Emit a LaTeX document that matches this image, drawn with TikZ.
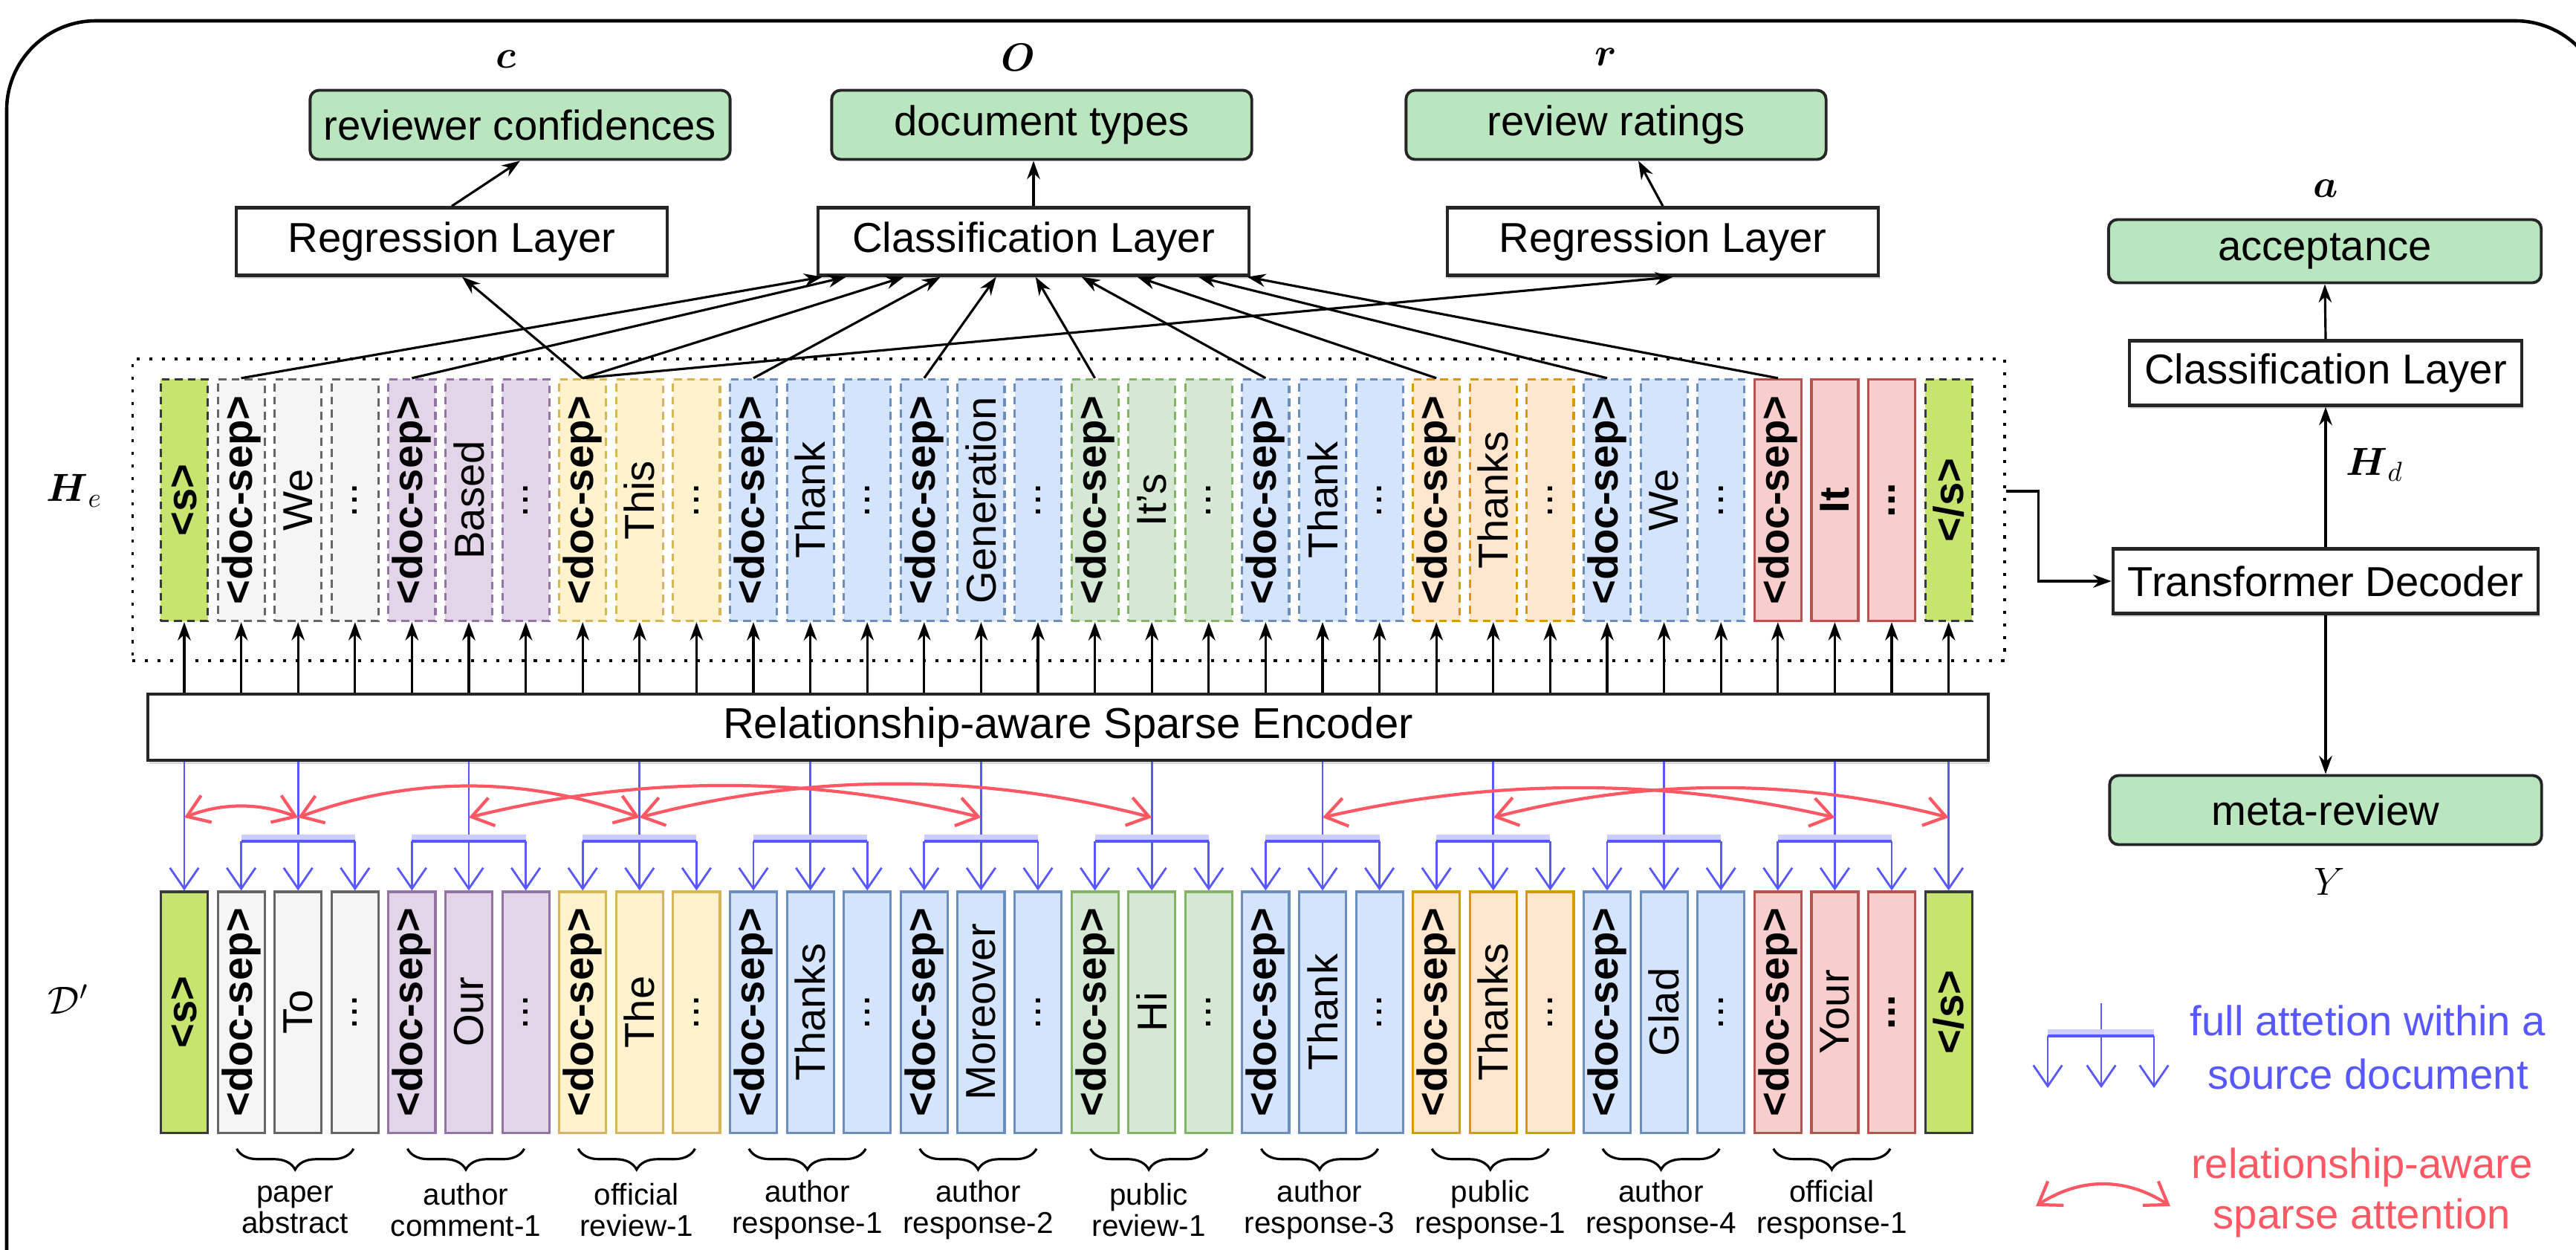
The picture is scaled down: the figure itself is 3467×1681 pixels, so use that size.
\RequirePackage{fix-cm}
\documentclass[tikz,border=0pt]{standalone}
\usepackage{amsmath}
\usepackage{fontspec}
\setmainfont{Liberation Sans}
\usetikzlibrary{arrows.meta,calc,decorations.pathreplacing,shadows}

% token colours (fill / line)
\definecolor{sgreen}{HTML}{C6E46E}
\definecolor{sline}{HTML}{36393D}
\definecolor{gfill}{HTML}{F5F5F5}
\definecolor{gline}{HTML}{666666}
\definecolor{pfill}{HTML}{E1D5E7}
\definecolor{pline}{HTML}{9673A6}
\definecolor{yfill}{HTML}{FFF2CC}
\definecolor{yline}{HTML}{D6B656}
\definecolor{bfill}{HTML}{D4E4FC}
\definecolor{bline}{HTML}{6C8EBF}
\definecolor{gnfill}{HTML}{D5E8D4}
\definecolor{gnline}{HTML}{82B366}
\definecolor{ofill}{HTML}{FFE6CC}
\definecolor{oline}{HTML}{D79B00}
\definecolor{rfill}{HTML}{F8CECC}
\definecolor{rline}{HTML}{B85450}
\definecolor{outgreen}{HTML}{BAE6BF}
\definecolor{attblue}{HTML}{5858FF}
\definecolor{attred}{HTML}{FF5865}

\newcommand{\bxfont}{\fontsize{16}{19}\selectfont}

\tikzset{
  lyrbox/.style={draw=black!85, line width=1.2pt, fill=white, minimum width=5.8cm,
    minimum height=0.91cm, inner sep=1pt, font=\bxfont,
    drop shadow={shadow xshift=0.4pt, shadow yshift=-1.3pt, opacity=0.3}},
  outbox/.style={draw=black!85, line width=1.1pt, fill=outgreen, rounded corners=0.12cm,
    minimum width=5.65cm, minimum height=0.93cm, inner sep=1pt, font=\bxfont},
  tok/.style={minimum width=0.63cm, inner sep=0pt, line width=0.9pt},
  htok/.style={tok, minimum height=3.25cm, dash pattern=on 3pt off 2pt},
  btok/.style={tok, minimum height=3.24cm},
  wordtxt/.style={rotate=90, inner sep=0pt, font=\bxfont},
  septxt/.style={rotate=90, inner sep=0pt, font=\bxfont\bfseries},
  stok/.style={fill=sgreen, draw=sline},
  c-gray/.style={fill=gfill, draw=gline},
  c-purple/.style={fill=pfill, draw=pline},
  c-yellow/.style={fill=yfill, draw=yline},
  c-blue/.style={fill=bfill, draw=bline},
  c-green/.style={fill=gnfill, draw=gnline},
  c-orange/.style={fill=ofill, draw=oline},
  c-red/.style={fill=rfill, draw=rline, solid},
  arr/.style={-{Stealth[length=7pt,width=5pt]}, line width=0.9pt},
  bluarr/.style={draw=attblue, line width=0.8pt, -{Straight Barb[length=8pt,width=11pt]}},
  blubar/.style={draw=attblue, line width=1.2pt,
    preaction={draw=attblue!30, line width=2.2pt, transform canvas={yshift=1.6pt}}},
  redarc/.style={draw=attred, line width=1.2pt,
    {Straight Barb[length=8pt,width=11pt]}-{Straight Barb[length=8pt,width=11pt]}},
  brc/.style={decorate, decoration={brace, mirror, amplitude=8pt}, line width=0.9pt},
  grplbl/.style={align=center, font=\fontsize{11.5}{12}\selectfont},
  hdr/.style={font=\fontsize{15}{18}\selectfont}
}

\begin{document}
\begin{tikzpicture}[x=0.01cm, y=-0.01cm]

% y runs downward here
\useasboundingbox (0,0) rectangle (3467,1681);

% Outer frame
\draw[line width=1.3pt, rounded corners=1.2cm] (9,28) rectangle (3505,1800);

% Encoder
\node[lyrbox, minimum width=24.75cm, minimum height=0.89cm, font=\fontsize{16.5}{20}\selectfont]
  (enc) at (1437.5,978.5) {Relationship-aware Sparse Encoder};

% Frame round H_e
\node[draw, line width=1pt, dash pattern=on 1.2pt off 3.6pt, minimum width=25.18cm,
  minimum height=4.06cm] (he) at (1438,686) {};

% Start and end tokens
\node[htok, stok] (h1) at (248,673) {};
\node[htok, stok] (h32) at (2622.6,673) {};
\node[btok, stok] (b1) at (248,1362) {};
\node[btok, stok] (b32) at (2622.6,1362) {};
\node[septxt] (th1) at (h1) {<s>};
\node[septxt] (th32) at (h32) {</s>};
\node[septxt] (tb1) at (b1) {<s>};
\node[septxt] (tb32) at (b32) {</s>};
\foreach \j in {1,32} {
  \draw[arr] (h\j.south |- enc.north) -- (h\j.south);
  \draw[bluarr] (b\j.north |- enc.south) -- (b\j.north);
}

% Source documents, three tokens each
\foreach \k/\cl/\tw/\bw/\la/\lb in {
  0/gray/We/To/paper/abstract,
  1/purple/Based/Our/author/comment-1,
  2/yellow/This/The/official/review-1,
  3/blue/Thank/Thanks/author/response-1,
  4/blue/Generation/Moreover/author/response-2,
  5/green/It's/Hi/public/review-1,
  6/blue/Thank/Thank/author/response-3,
  7/orange/Thanks/Thanks/public/response-1,
  8/blue/We/Glad/author/response-4,
  9/red/It/Your/official/response-1} {
  \pgfmathtruncatemacro{\ia}{2+3*\k}
  \pgfmathtruncatemacro{\ib}{3+3*\k}
  \pgfmathtruncatemacro{\ic}{4+3*\k}
  \foreach \j in {\ia,\ib,\ic} {
    \pgfmathsetmacro{\cx}{248+(\j-1)*76.6}
    \node[htok, c-\cl] (h\j) at (\cx,673) {};
    \node[btok, c-\cl] (b\j) at (\cx,1362) {};
    \draw[arr] (h\j.south |- enc.north) -- (h\j.south);
  }
  % token texts
  \node[septxt] (th\ia) at (h\ia) {<doc-sep>};
  \node[wordtxt] (th\ib) at (h\ib) {\ifnum\k=9\bfseries\fi\tw};
  \node[wordtxt] (th\ic) at (h\ic) {\ifnum\k=9\bfseries\fi...};
  \node[septxt] (tb\ia) at (b\ia) {<doc-sep>};
  \node[wordtxt] (tb\ib) at (b\ib) {\bw};
  \node[wordtxt] (tb\ic) at (b\ic) {\ifnum\k=9\bfseries\fi...};
  % full attention inside the document
  \draw[bluarr] (b\ib.north |- enc.south) -- (b\ib.north);
  \draw[blubar] (b\ia.north |- 0,1132) -- (b\ic.north |- 0,1132);
  \draw[bluarr] (b\ia.north |- 0,1132) -- (b\ia.north);
  \draw[bluarr] (b\ic.north |- 0,1132) -- (b\ic.north);
  % brace and name
  \draw[brc] ($(b\ia.south)+(-6,20)$) -- ($(b\ic.south)+(-2,20)$);
  \node[grplbl] (lbl\k) at ($(b\ib.south)+(-4,102)$) {\la\\\lb};
}

% Relationship-aware sparse attention
\foreach \i in {1,3,6,9,15,18,21,24,30,32}
  \coordinate (r\i) at (b\i.north |- 0,1100);
\draw[redarc] (r1) .. controls +(51,-20) and +(-51,-20) .. (r3);
\draw[redarc] (r3) .. controls +(153,-56) and +(-153,-56) .. (r9);
\draw[redarc] (r6) .. controls +(230,-57) and +(-230,-57) .. (r15);
\draw[redarc] (r9) .. controls +(230,-60) and +(-230,-60) .. (r18);
\draw[redarc] (r21) .. controls +(230,-53) and +(-230,-53) .. (r30);
\draw[redarc] (r24) .. controls +(204,-53) and +(-204,-53) .. (r32);

% Heads on the encoder output
\node[outbox] (rc) at (700,168) {reviewer confidences};
\node[outbox] (dt) at (1402,168) {document types};
\node[outbox] (rr) at (2175,168) {review ratings};
\node[lyrbox] (regl) at (608,325) {Regression Layer};
\node[lyrbox] (cls) at (1391,325) {Classification Layer};
\node[lyrbox] (regr) at (2238,325) {Regression Layer};

\draw[arr] (regl.north) -- (rc.south);
\draw[arr] (cls.north) -- (cls.north |- dt.south);
\draw[arr] (regr.north) -- ($(rr.south)+(30,0)$);

\foreach \c/\d in {2/8, 5/40, 8/118, 11/167, 14/242, 17/295, 20/357, 23/432, 26/514, 29/580}
  \draw[arr] (h\c.north) -- ($(cls.south west)+(\d,0)$);
\draw[arr] (h8.north) -- ($(regl.south)+(14,0)$);
\draw[arr] (h8.north) -- ($(regr.south)+(14,0)$);

% Decoder side
\node[outbox, minimum width=5.82cm, minimum height=0.85cm] (acc) at (3129,338) {acceptance};
\node[lyrbox, minimum width=5.28cm, minimum height=0.87cm] (cls2) at (3130,502) {Classification Layer};
\node[lyrbox, minimum width=5.72cm, minimum height=0.87cm] (td) at (3130,782) {Transformer Decoder};
\node[outbox, minimum width=5.81cm, minimum height=0.93cm] (meta) at (3130,1090) {meta-review};

\draw[arr] (td.north) -- (cls2.south);
\draw[arr] (cls2.north) -- (acc.south);
\draw[arr] (td.south) -- (meta.north);
\draw[arr] ($(he.east)+(0,-25)$) -| ($(td.west)+(-98,0)$) -- (td.west);

% Labels
\node[hdr] (lc) at (681,80) {$\boldsymbol{c}$};
\node[hdr] (lo) at (1370,77) {$\boldsymbol{O}$};
\node[hdr] (lr) at (2161,77) {$\boldsymbol{r}$};
\node[hdr] (la) at (3130,254) {$\boldsymbol{a}$};
\node[hdr] (lhd) at (3196,625) {$\boldsymbol{H}_d$};
\node[hdr] (ly) at (3135,1186) {$Y$};
\node[hdr] (lhe) at (100,660) {$\boldsymbol{H}_e$};
\node[hdr] (ld) at (92,1345) {$\mathcal{D}'$};

% Legend
\coordinate (lgv) at (2828,1350);
\coordinate (lgm) at (2828,1464);
\coordinate (lgl) at (2756,1394);
\coordinate (lgla) at (2756,1464);
\coordinate (lgr) at (2899,1394);
\coordinate (lgra) at (2899,1464);
\draw[bluarr] (lgv) -- (lgm);
\draw[blubar] (lgl) -- (lgr);
\draw[bluarr] (lgl) -- (lgla);
\draw[bluarr] (lgr) -- (lgra);
\node[text=attblue, align=center, font=\fontsize{16}{20.4}\selectfont] (lgb) at (3187,1409)
  {full attetion within a\\source document};

\coordinate (lga) at (2740,1623);
\coordinate (lgb2) at (2921,1623);
\draw[redarc] (lga) .. controls +(60,-39) and +(-60,-39) .. (lgb2);
\node[text=attred, align=center, font=\fontsize{16}{19.3}\selectfont] (lgr2) at (3179,1605)
  {relationship-aware\\sparse attention};

\end{tikzpicture}
\end{document}
